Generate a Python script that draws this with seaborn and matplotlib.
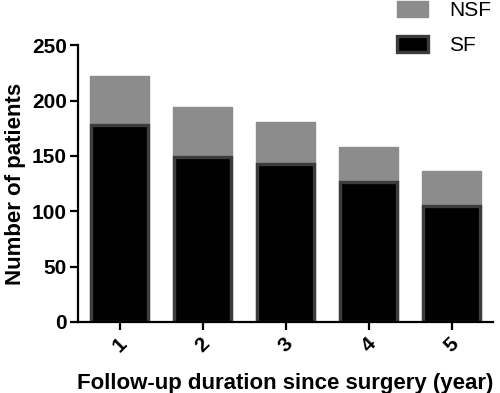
import numpy as np
import pandas as pd
import matplotlib
matplotlib.use('Agg')
import matplotlib.pyplot as plt
import seaborn as sns
from matplotlib.patches import Patch

# follow-up year and patient counts
years = ['1', '2', '3', '4', '5']
sf = [178, 149, 143, 126, 105]
nsf = [44, 45, 38, 32, 31]

df = pd.DataFrame({'year': years, 'SF': sf, 'NSF': nsf})
df['total'] = df['SF'] + df['NSF']

sns.set_style('ticks')
plt.rcParams['font.family'] = ['Liberation Sans', 'DejaVu Sans']
plt.rcParams['font.weight'] = 'bold'
for k in ['text.color', 'axes.labelcolor', 'xtick.color', 'ytick.color', 'axes.edgecolor']:
    plt.rcParams[k] = 'black'

fig = plt.figure(figsize=(5, 3.93), dpi=100)
ax = fig.add_axes([0.156, 0.181, 0.83, 0.704])

gray = '#8c8c8c'
edge = '#3c3c3c'

# NSF stacked on top of SF: draw total in gray, then SF in black over it
sns.barplot(data=df, x='year', y='total', color=gray, saturation=1,
            width=0.71, edgecolor=gray, linewidth=1, ax=ax)
sns.barplot(data=df, x='year', y='SF', color='black', saturation=1,
            width=0.69, edgecolor=edge, linewidth=2.4, ax=ax)

ax.set_ylim(0, 250)
ax.set_xlim(-0.5, 4.5)
ax.set_yticks([0, 50, 100, 150, 200, 250])
sns.despine(ax=ax)
for s in ['left', 'bottom']:
    ax.spines[s].set_linewidth(1.6)
ax.tick_params(axis='both', width=1.6, length=6, labelsize=15)
ax.tick_params(axis='x', labelrotation=45, pad=3)
ax.tick_params(axis='y', pad=2)
for lab in ax.get_xticklabels() + ax.get_yticklabels():
    lab.set_fontweight('bold')

ax.set_xlabel('Follow-up duration since surgery (year)', fontsize=16,
              fontweight='bold', labelpad=12)
ax.set_ylabel('Number of patients', fontsize=16, fontweight='bold', labelpad=4)

handles = [Patch(facecolor=gray, edgecolor=gray, label='NSF'),
           Patch(facecolor='black', edgecolor=edge, linewidth=2.4, label='SF')]
leg = fig.legend(handles=handles, loc='upper right', bbox_to_anchor=(1.02, 1.045),
                 frameon=False, fontsize=15, handlelength=1.5, handleheight=0.8,
                 labelspacing=0.75, handletextpad=1.0)
for t in leg.get_texts():
    t.set_fontweight('normal')

plt.savefig('out.png', dpi=100)
